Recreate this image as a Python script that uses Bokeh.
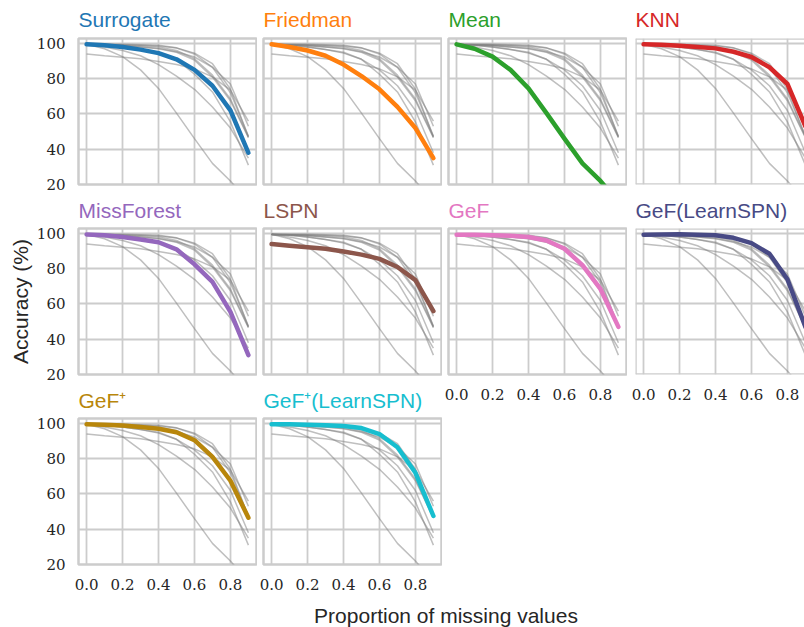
from bokeh.plotting import figure
from bokeh.layouts import row, column
from bokeh.models import Range1d, FixedTicker, PrintfTickFormatter, Span, Label
from bokeh.embed import file_html
from bokeh.resources import INLINE

# ---------------- data ----------------
x_values = [0.0, 0.1, 0.2, 0.3, 0.4, 0.5, 0.6, 0.7, 0.8, 0.9]

methods = ["Surrogate", "Friedman", "Mean", "KNN",
           "MissForest", "LSPN", "GeF", "GeF(LearnSPN)",
           "GeF\u207a", "GeF\u207a(LearnSPN)"]

colors = ["#1f77b4", "#ff7f0e", "#2ca02c", "#d62728",
          "#9467bd", "#8c564b", "#e377c2", "#484a85",
          "#b8860b", "#17becf"]

surrogate = [99.5, 99.0, 98.0, 96.5, 94.5, 91.0, 85.0, 76.0, 62.0, 38.0]
friedman = [99.5, 98.0, 96.0, 93.0, 88.0, 81.5, 74.0, 64.0, 52.0, 35.0]
mean_imp = [99.5, 97.0, 92.5, 85.0, 74.5, 60.5, 46.0, 32.0, 22.0, 10.0]
knn = [99.5, 99.2, 98.7, 98.0, 97.2, 95.3, 92.3, 86.5, 77.0, 53.0]
missforest = [99.4, 99.0, 98.0, 96.6, 95.0, 91.0, 82.5, 72.5, 55.5, 31.0]
lspn = [94.0, 93.0, 92.2, 91.3, 89.8, 88.0, 85.6, 81.0, 73.5, 56.0]
gef = [99.3, 99.2, 99.0, 98.7, 98.0, 96.0, 91.3, 82.0, 68.5, 47.0]
gef_learnspn = [99.3, 99.4, 99.5, 99.3, 99.0, 97.5, 94.5, 88.5, 74.0, 47.0]
gef_plus = [99.5, 99.2, 98.8, 98.0, 97.0, 95.0, 90.5, 81.0, 67.5, 46.5]
gef_plus_learnspn = [99.6, 99.5, 99.3, 99.0, 98.5, 97.4, 94.0, 86.5, 72.0, 47.5]

series = [surrogate, friedman, mean_imp, knn, missforest, lspn,
          gef, gef_learnspn, gef_plus, gef_plus_learnspn]

x_ticks = [0.0, 0.2, 0.4, 0.6, 0.8]
y_ticks = [20, 40, 60, 80, 100]

x_label = "Proportion of missing values"
y_label = "Accuracy (%)"

# ---------------- style ----------------
SANS = "Liberation Sans"
SERIF = "DejaVu Serif"
FRAME_COLOR = "#cccccc"
TEXT_COLOR = "#262626"

X0, X1 = -0.045, 0.945
Y0, Y1 = 20, 102.8
FRAME_W, FRAME_H = 178, 146


def make_panel(idx, r, c):
    show_y = c == 0
    show_x = (r == 2) or (r == 1 and c >= 2)
    left = {0: 78, 1: 6, 2: 6, 3: 8}[c]
    frame_w = 169 if c == 3 else FRAME_W
    right = 0 if c == 3 else 1
    top = 38 if r == 0 else 35
    bottom = 30 if show_x else 9
    x_end = X0 + (X1 - X0) * frame_w / FRAME_W

    p = figure(width=left + frame_w + right, height=top + FRAME_H + bottom,
               x_range=Range1d(X0, x_end), y_range=Range1d(Y0, Y1),
               output_backend="svg", toolbar_location=None,
               x_axis_location="below" if show_x else None,
               y_axis_location="left" if show_y else None,
               min_border_left=left, min_border_right=right,
               min_border_top=top, min_border_bottom=bottom)
    p.background_fill_color = "white"
    p.border_fill_color = "white"

    if c == 3:
        p.outline_line_color = None
        for loc, dim in [(X0, "height"), (Y0, "width"), (Y1, "width")]:
            p.add_layout(Span(location=loc, dimension=dim,
                              line_color=FRAME_COLOR, line_width=2.5))
    else:
        p.outline_line_color = FRAME_COLOR
        p.outline_line_width = 2.5

    for g, ticks in ((p.xgrid, x_ticks), (p.ygrid, y_ticks)):
        g.ticker = FixedTicker(ticks=ticks)
        g.grid_line_color = FRAME_COLOR
        g.grid_line_width = 1.8

    if show_x:
        ax = p.xaxis[0]
        ax.ticker = FixedTicker(ticks=x_ticks)
        ax.formatter = PrintfTickFormatter(format="%.1f")
        ax.axis_line_color = None
        ax.major_tick_line_color = None
        ax.minor_tick_line_color = None
        ax.major_label_standoff = 8
        ax.major_label_text_font = SERIF
        ax.major_label_text_font_size = "15px"
        ax.major_label_text_color = TEXT_COLOR
    if show_y:
        ay = p.yaxis[0]
        ay.ticker = FixedTicker(ticks=y_ticks)
        ay.axis_line_color = None
        ay.major_tick_line_color = None
        ay.minor_tick_line_color = None
        ay.major_label_standoff = 7
        ay.major_label_text_font = SERIF
        ay.major_label_text_font_size = "15px"
        ay.major_label_text_color = TEXT_COLOR
        if r == 1:
            ay.axis_label = y_label
            ay.axis_label_text_font = SANS
            ay.axis_label_text_font_size = "21px"
            ay.axis_label_text_font_style = "normal"
            ay.axis_label_text_color = TEXT_COLOR
            ay.axis_label_standoff = 2

    p.title.text = methods[idx]
    p.title.text_color = colors[idx]
    p.title.text_font = SANS
    p.title.text_font_size = "21px"
    p.title.text_font_style = "normal"
    p.title.align = "left"
    p.title.vertical_align = "top"
    p.title.offset = 0
    p.title.standoff = 12 if r == 0 else 9

    for j, ys in enumerate(series):
        if j == idx:
            continue
        p.line(x_values, ys, line_color="#808080", line_alpha=0.5, line_width=1.5)
    p.line(x_values, series[idx], line_color=colors[idx], line_width=4.5,
           line_cap="round", line_join="round")
    return p


grid_pos = [(0, 0), (0, 1), (0, 2), (0, 3),
            (1, 0), (1, 1), (1, 2), (1, 3),
            (2, 0), (2, 1)]

cols = {0: [], 1: [], 2: [], 3: []}
for i, (r, c) in enumerate(grid_pos):
    cols[c].append(make_panel(i, r, c))

top_block = row(*[column(*cols[c]) for c in range(4)])

bottom = figure(width=804, height=33, x_range=Range1d(0, 804), y_range=Range1d(0, 33),
                output_backend="svg", toolbar_location=None,
                x_axis_location=None, y_axis_location=None, min_border=0)
bottom.outline_line_color = None
bottom.xgrid.visible = False
bottom.ygrid.visible = False
bottom.add_layout(Label(x=445.5, y=12, text=x_label, text_align="center",
                        text_baseline="alphabetic", text_font=SANS,
                        text_font_size="21px", text_color=TEXT_COLOR))

layout = column(top_block, bottom)

open("out.html", "w").write(file_html(layout, INLINE))
